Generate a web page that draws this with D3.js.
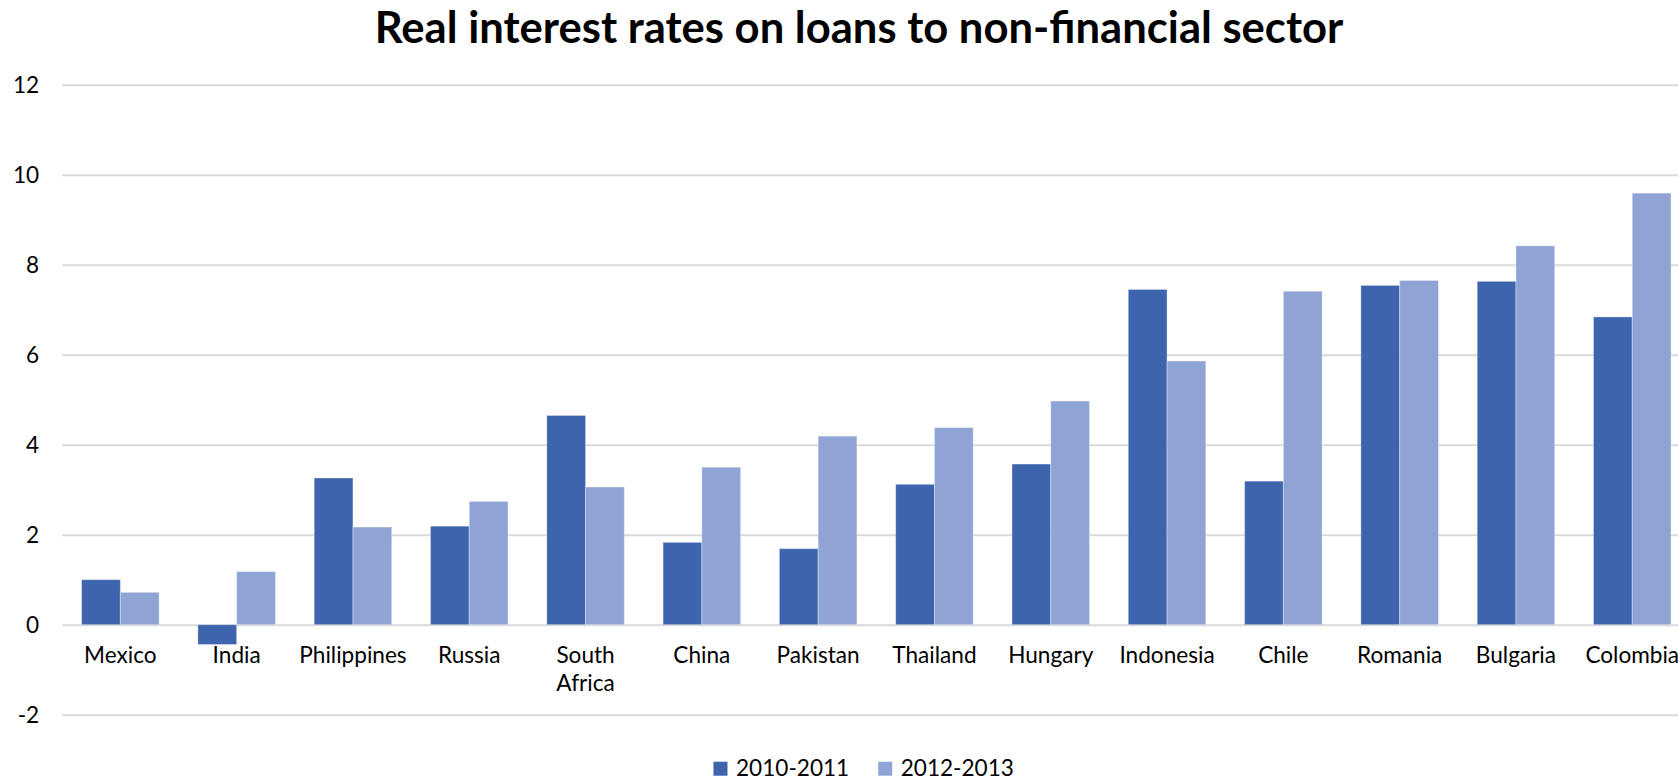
<!DOCTYPE html>
<html>
<head>
<meta charset="utf-8">
<script src="https://cdn.jsdelivr.net/npm/d3@7"></script>
<style>
  html, body { margin: 0; padding: 0; background: #ffffff; overflow: hidden; }
  svg { display: block; }
</style>
</head>
<body>
<svg id="chart" width="1678" height="780"></svg>
<script>
// Real interest rates on loans to the non-financial sector, by country (%)
const categories = ["Mexico", "India", "Philippines", "Russia", "South Africa", "China", "Pakistan",
                    "Thailand", "Hungary", "Indonesia", "Chile", "Romania", "Bulgaria", "Colombia"];
const seriesNames = ["2010-2011", "2012-2013"];
const rates2010_2011 = [1.00, -0.44, 3.26, 2.19, 4.65, 1.83, 1.69, 3.12, 3.57, 7.45, 3.19, 7.54, 7.63, 6.84];
const rates2012_2013 = [0.72, 1.18, 2.17, 2.74, 3.06, 3.50, 4.19, 4.38, 4.97, 5.86, 7.41, 7.65, 8.42, 9.59];
const yTickValues = [-2, 0, 2, 4, 6, 8, 10, 12];
const chartTitle = "Real interest rates on loans to non-financial sector";

const colors = { "2010-2011": "#3e64ad", "2012-2013": "#8fa3d4" };
const FONT = "Lato, 'Open Sans', sans-serif";
const TICK_SIZE = 22.6;

const svg = d3.select("#chart");

// Plot area (the category axis runs slightly past the right edge of the page)
const plotLeft = 62.2, plotRight = 1690.4, plotTop = 84.7, plotBottom = 714.7;

const x0 = d3.scaleBand().domain(categories).range([plotLeft, plotRight]).paddingInner(0).paddingOuter(0);
const x1 = d3.scaleBand().domain(seriesNames).range([0, x0.bandwidth()]).paddingInner(0).paddingOuter(0.5);
const y = d3.scaleLinear().domain([-2, 12]).range([plotBottom, plotTop]);

const rows = categories.map((c, i) => ({
  category: c,
  values: [
    { key: seriesNames[0], value: rates2010_2011[i] },
    { key: seriesNames[1], value: rates2012_2013[i] }
  ]
}));

// Horizontal gridlines with value labels on the left
const yAxis = d3.axisLeft(y).tickValues(yTickValues).tickSize(-(plotRight - plotLeft)).tickPadding(23)
  .tickFormat(d => String(d));
const yg = svg.append("g").attr("transform", `translate(${plotLeft},0)`).call(yAxis);
yg.select(".domain").remove();
yg.selectAll(".tick line").attr("stroke", "#d9d9d9").attr("stroke-width", 2);
yg.selectAll(".tick text")
  .attr("font-family", FONT).attr("font-size", TICK_SIZE).attr("fill", "#000")
  .attr("dy", "0.36em");

// Bars
const groups = svg.append("g").selectAll("g")
  .data(rows).join("g")
  .attr("transform", d => `translate(${x0(d.category)},0)`);

groups.selectAll("rect")
  .data(d => d.values).join("rect")
  .attr("x", d => x1(d.key))
  .attr("width", x1.bandwidth())
  .attr("y", d => y(Math.max(0, d.value)))
  .attr("height", d => Math.abs(y(d.value) - y(0)))
  .attr("fill", d => colors[d.key])
  .attr("stroke", "#ffffff")
  .attr("stroke-opacity", 0.35)
  .attr("stroke-width", 1);

// Category labels below the zero line, wrapped when wider than a band
const xAxis = d3.axisBottom(x0).tickSize(0).tickPadding(0);
const xg = svg.append("g").attr("transform", `translate(0,${y(0)})`).call(xAxis);
xg.select(".domain").remove();
xg.selectAll(".tick text")
  .attr("font-family", FONT).attr("font-size", TICK_SIZE).attr("fill", "#000")
  .attr("y", 38.6).attr("dy", 0)
  .each(function(d) {
    const t = d3.select(this);
    if (this.getComputedTextLength() > x0.step() - 4 && d.includes(" ")) {
      const words = d.split(" ");
      t.text(null);
      words.forEach((w, i) => {
        t.append("tspan").attr("x", 0).attr("y", 38.6 + i * 27.5).text(w);
      });
    }
  });

// Title
svg.append("text")
  .attr("x", 859).attr("y", 43)
  .attr("text-anchor", "middle")
  .attr("font-family", FONT).attr("font-weight", 700).attr("font-size", 43.6)
  .attr("fill", "#000")
  .text(chartTitle);

// Legend
const legend = svg.append("g");
let lx = 0;
seriesNames.forEach((name, i) => {
  const item = legend.append("g").attr("transform", `translate(${lx},0)`);
  item.append("rect").attr("x", 0).attr("y", -14).attr("width", 14).attr("height", 14).attr("fill", colors[name]);
  const txt = item.append("text").attr("x", 22.5).attr("y", 0)
    .attr("font-family", FONT).attr("font-size", TICK_SIZE).attr("fill", "#000").text(name);
  lx += 22.5 + txt.node().getComputedTextLength() + 29;
});
const legendWidth = lx - 29;
legend.attr("transform", `translate(${863.7 - legendWidth / 2},775.7)`);
</script>
</body>
</html>
